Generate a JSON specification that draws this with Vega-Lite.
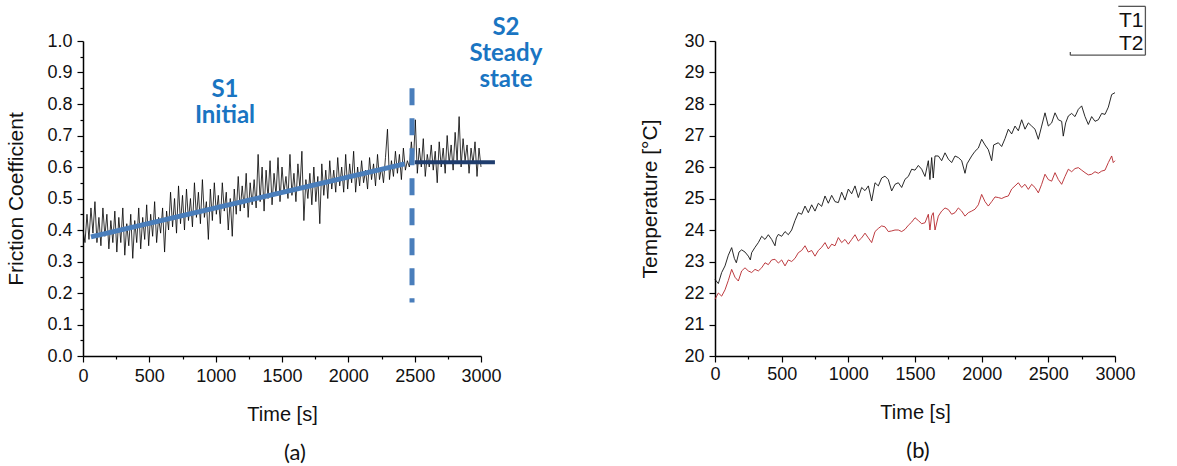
{
  "$schema": "https://vega.github.io/schema/vega-lite/v6.json",
  "padding": {"left": 5, "top": 5, "right": 0, "bottom": 0},
  "bounds": "flush",
  "spacing": 234,
  "config": {
    "view": {"stroke": null},
    "axis": {
      "grid": false,
      "domainColor": "#000",
      "domainWidth": 1.5,
      "tickColor": "#000",
      "tickWidth": 1.2,
      "tickCount": 100,
      "labelFont": "Liberation Sans",
      "labelFontSize": 18,
      "labelColor": "#111",
      "labelOverlap": false,
      "labelFlush": false,
      "labelBound": false,
      "titleFont": "Liberation Sans",
      "titleFontSize": 20,
      "titleFontWeight": "normal",
      "titleColor": "#111"
    }
  },
  "datasets": {
    "friction": [
      {"t":0,"mu":0.40},{"t":15,"mu":0.36},{"t":30,"mu":0.45},{"t":45,"mu":0.37},{"t":60,"mu":0.47},{"t":75,"mu":0.39},{"t":90,"mu":0.49},{"t":105,"mu":0.36},{"t":120,"mu":0.44},{"t":135,"mu":0.35},
      {"t":150,"mu":0.47},{"t":165,"mu":0.38},{"t":180,"mu":0.45},{"t":195,"mu":0.34},{"t":210,"mu":0.43},{"t":225,"mu":0.36},{"t":240,"mu":0.46},{"t":255,"mu":0.33},{"t":270,"mu":0.44},{"t":285,"mu":0.36},
      {"t":300,"mu":0.47},{"t":315,"mu":0.32},{"t":330,"mu":0.42},{"t":345,"mu":0.35},{"t":360,"mu":0.45},{"t":375,"mu":0.31},{"t":390,"mu":0.43},{"t":405,"mu":0.36},{"t":420,"mu":0.47},{"t":435,"mu":0.34},
      {"t":450,"mu":0.44},{"t":465,"mu":0.37},{"t":480,"mu":0.48},{"t":495,"mu":0.35},{"t":510,"mu":0.45},{"t":525,"mu":0.38},{"t":540,"mu":0.49},{"t":555,"mu":0.36},{"t":570,"mu":0.44},{"t":585,"mu":0.39},
      {"t":600,"mu":0.47},{"t":615,"mu":0.33},{"t":630,"mu":0.46},{"t":645,"mu":0.40},{"t":660,"mu":0.52},{"t":675,"mu":0.41},{"t":690,"mu":0.50},{"t":705,"mu":0.39},{"t":720,"mu":0.54},{"t":735,"mu":0.42},
      {"t":750,"mu":0.51},{"t":765,"mu":0.40},{"t":780,"mu":0.53},{"t":795,"mu":0.43},{"t":810,"mu":0.50},{"t":825,"mu":0.41},{"t":840,"mu":0.55},{"t":855,"mu":0.44},{"t":870,"mu":0.52},{"t":885,"mu":0.42},
      {"t":900,"mu":0.56},{"t":915,"mu":0.44},{"t":930,"mu":0.49},{"t":945,"mu":0.37},{"t":960,"mu":0.53},{"t":975,"mu":0.43},{"t":990,"mu":0.55},{"t":1005,"mu":0.45},{"t":1020,"mu":0.51},{"t":1035,"mu":0.42},
      {"t":1050,"mu":0.55},{"t":1065,"mu":0.46},{"t":1080,"mu":0.52},{"t":1095,"mu":0.40},{"t":1110,"mu":0.50},{"t":1125,"mu":0.38},{"t":1140,"mu":0.53},{"t":1155,"mu":0.45},{"t":1170,"mu":0.57},{"t":1185,"mu":0.46},
      {"t":1200,"mu":0.54},{"t":1215,"mu":0.47},{"t":1230,"mu":0.58},{"t":1245,"mu":0.44},{"t":1260,"mu":0.55},{"t":1275,"mu":0.48},{"t":1290,"mu":0.56},{"t":1305,"mu":0.47},{"t":1320,"mu":0.64},{"t":1335,"mu":0.49},
      {"t":1350,"mu":0.60},{"t":1365,"mu":0.46},{"t":1380,"mu":0.59},{"t":1395,"mu":0.50},{"t":1410,"mu":0.62},{"t":1425,"mu":0.48},{"t":1440,"mu":0.58},{"t":1455,"mu":0.51},{"t":1470,"mu":0.63},{"t":1485,"mu":0.49},
      {"t":1500,"mu":0.60},{"t":1515,"mu":0.52},{"t":1530,"mu":0.57},{"t":1545,"mu":0.50},{"t":1560,"mu":0.64},{"t":1575,"mu":0.51},{"t":1590,"mu":0.58},{"t":1605,"mu":0.49},{"t":1620,"mu":0.61},{"t":1635,"mu":0.53},
      {"t":1650,"mu":0.65},{"t":1665,"mu":0.43},{"t":1680,"mu":0.56},{"t":1695,"mu":0.50},{"t":1710,"mu":0.58},{"t":1725,"mu":0.48},{"t":1740,"mu":0.60},{"t":1755,"mu":0.49},{"t":1770,"mu":0.57},{"t":1785,"mu":0.42},
      {"t":1800,"mu":0.61},{"t":1815,"mu":0.51},{"t":1830,"mu":0.59},{"t":1845,"mu":0.50},{"t":1860,"mu":0.62},{"t":1875,"mu":0.53},{"t":1890,"mu":0.59},{"t":1905,"mu":0.52},{"t":1920,"mu":0.63},{"t":1935,"mu":0.54},
      {"t":1950,"mu":0.60},{"t":1965,"mu":0.52},{"t":1980,"mu":0.64},{"t":1995,"mu":0.53},{"t":2010,"mu":0.61},{"t":2025,"mu":0.55},{"t":2040,"mu":0.65},{"t":2055,"mu":0.52},{"t":2070,"mu":0.60},{"t":2085,"mu":0.54},
      {"t":2100,"mu":0.62},{"t":2115,"mu":0.55},{"t":2130,"mu":0.59},{"t":2145,"mu":0.53},{"t":2160,"mu":0.63},{"t":2175,"mu":0.56},{"t":2190,"mu":0.61},{"t":2205,"mu":0.54},{"t":2220,"mu":0.64},{"t":2235,"mu":0.56},
      {"t":2250,"mu":0.60},{"t":2265,"mu":0.55},{"t":2280,"mu":0.63},{"t":2295,"mu":0.72},{"t":2310,"mu":0.56},{"t":2325,"mu":0.62},{"t":2340,"mu":0.57},{"t":2355,"mu":0.65},{"t":2370,"mu":0.58},{"t":2385,"mu":0.64},
      {"t":2400,"mu":0.56},{"t":2415,"mu":0.66},{"t":2430,"mu":0.59},{"t":2445,"mu":0.62},{"t":2460,"mu":0.60},{"t":2475,"mu":0.68},{"t":2490,"mu":0.61},{"t":2505,"mu":0.75},{"t":2520,"mu":0.58},{"t":2535,"mu":0.66},
      {"t":2550,"mu":0.60},{"t":2565,"mu":0.69},{"t":2580,"mu":0.57},{"t":2595,"mu":0.64},{"t":2610,"mu":0.60},{"t":2625,"mu":0.67},{"t":2640,"mu":0.59},{"t":2655,"mu":0.65},{"t":2670,"mu":0.55},{"t":2685,"mu":0.68},
      {"t":2700,"mu":0.60},{"t":2715,"mu":0.66},{"t":2730,"mu":0.58},{"t":2745,"mu":0.70},{"t":2760,"mu":0.61},{"t":2775,"mu":0.67},{"t":2790,"mu":0.59},{"t":2805,"mu":0.71},{"t":2820,"mu":0.62},{"t":2835,"mu":0.76},
      {"t":2850,"mu":0.60},{"t":2865,"mu":0.69},{"t":2880,"mu":0.62},{"t":2895,"mu":0.67},{"t":2910,"mu":0.58},{"t":2925,"mu":0.66},{"t":2940,"mu":0.61},{"t":2955,"mu":0.68},{"t":2970,"mu":0.57},{"t":2985,"mu":0.66},
      {"t":3000,"mu":0.60}
    ],
    "T1": [
      {"t":0,"v":22.43},{"t":25,"v":22.3},{"t":50,"v":22.65},{"t":75,"v":22.86},{"t":100,"v":23.2},{"t":125,"v":23.44},{"t":145,"v":23.1},{"t":160,"v":22.96},{"t":180,"v":23.3},{"t":200,"v":23.37},
      {"t":225,"v":23.3},{"t":250,"v":23.17},{"t":265,"v":23.05},{"t":275,"v":23.28},{"t":300,"v":23.45},{"t":325,"v":23.6},{"t":350,"v":23.8},{"t":375,"v":23.7},{"t":400,"v":23.85},{"t":425,"v":23.7},
      {"t":450,"v":23.5},{"t":460,"v":23.75},{"t":475,"v":23.86},{"t":500,"v":23.8},{"t":525,"v":23.95},{"t":550,"v":23.85},{"t":575,"v":24.0},{"t":600,"v":24.3},{"t":625,"v":24.55},{"t":650,"v":24.5},
      {"t":675,"v":24.76},{"t":700,"v":24.55},{"t":725,"v":24.8},{"t":750,"v":24.6},{"t":775,"v":24.85},{"t":800,"v":24.75},{"t":825,"v":25.08},{"t":850,"v":24.85},{"t":875,"v":25.1},{"t":900,"v":24.9},
      {"t":925,"v":24.87},{"t":950,"v":25.2},{"t":975,"v":24.95},{"t":1000,"v":25.3},{"t":1025,"v":25.15},{"t":1050,"v":25.4},{"t":1075,"v":25.03},{"t":1100,"v":25.35},{"t":1125,"v":25.25},{"t":1150,"v":25.4},
      {"t":1175,"v":24.92},{"t":1200,"v":25.5},{"t":1225,"v":25.4},{"t":1250,"v":25.65},{"t":1275,"v":25.71},{"t":1300,"v":25.6},{"t":1325,"v":25.24},{"t":1350,"v":25.45},{"t":1375,"v":25.5},{"t":1400,"v":25.35},
      {"t":1425,"v":25.61},{"t":1450,"v":25.7},{"t":1475,"v":25.93},{"t":1500,"v":25.9},{"t":1525,"v":26.05},{"t":1550,"v":25.93},{"t":1575,"v":25.7},{"t":1600,"v":26.2},{"t":1612,"v":25.6},{"t":1625,"v":26.3},
      {"t":1637,"v":25.65},{"t":1650,"v":26.35},{"t":1675,"v":26.35},{"t":1700,"v":26.2},{"t":1725,"v":26.45},{"t":1750,"v":26.25},{"t":1775,"v":26.14},{"t":1800,"v":26.35},{"t":1825,"v":26.3},{"t":1850,"v":26.2},
      {"t":1875,"v":25.8},{"t":1890,"v":26.1},{"t":1925,"v":26.35},{"t":1950,"v":26.5},{"t":1975,"v":26.6},{"t":2000,"v":26.88},{"t":2025,"v":26.7},{"t":2050,"v":26.55},{"t":2075,"v":26.2},{"t":2090,"v":26.7},
      {"t":2125,"v":26.77},{"t":2150,"v":26.65},{"t":2175,"v":26.9},{"t":2200,"v":27.2},{"t":2225,"v":27.05},{"t":2250,"v":27.3},{"t":2275,"v":27.15},{"t":2300,"v":27.5},{"t":2325,"v":27.2},{"t":2350,"v":27.4},
      {"t":2375,"v":27.3},{"t":2400,"v":27.2},{"t":2425,"v":26.88},{"t":2450,"v":27.3},{"t":2475,"v":27.72},{"t":2500,"v":27.3},{"t":2525,"v":27.4},{"t":2550,"v":27.72},{"t":2575,"v":27.5},{"t":2600,"v":27.45},
      {"t":2612,"v":26.98},{"t":2630,"v":27.4},{"t":2650,"v":27.62},{"t":2675,"v":27.7},{"t":2700,"v":27.6},{"t":2725,"v":27.83},{"t":2750,"v":27.94},{"t":2775,"v":27.6},{"t":2800,"v":27.35},{"t":2825,"v":27.6},
      {"t":2850,"v":27.45},{"t":2875,"v":27.5},{"t":2900,"v":27.7},{"t":2925,"v":27.67},{"t":2950,"v":27.9},{"t":2975,"v":28.3},{"t":3000,"v":28.36}
    ],
    "T2": [
      {"t":0,"v":21.8},{"t":25,"v":22.0},{"t":50,"v":21.9},{"t":75,"v":22.1},{"t":100,"v":22.4},{"t":125,"v":22.75},{"t":150,"v":22.5},{"t":175,"v":22.38},{"t":200,"v":22.7},{"t":225,"v":22.8},
      {"t":250,"v":22.7},{"t":275,"v":22.65},{"t":300,"v":22.75},{"t":325,"v":22.7},{"t":350,"v":22.8},{"t":375,"v":22.96},{"t":400,"v":22.9},{"t":425,"v":23.05},{"t":450,"v":23.07},{"t":475,"v":22.95},
      {"t":500,"v":23.05},{"t":525,"v":22.86},{"t":550,"v":23.05},{"t":575,"v":23.0},{"t":600,"v":23.1},{"t":625,"v":23.28},{"t":650,"v":23.35},{"t":675,"v":23.5},{"t":700,"v":23.3},{"t":725,"v":23.35},
      {"t":750,"v":23.17},{"t":775,"v":23.35},{"t":800,"v":23.45},{"t":825,"v":23.6},{"t":850,"v":23.4},{"t":875,"v":23.55},{"t":900,"v":23.5},{"t":925,"v":23.76},{"t":950,"v":23.6},{"t":975,"v":23.7},
      {"t":1000,"v":23.55},{"t":1025,"v":23.7},{"t":1050,"v":23.85},{"t":1075,"v":23.65},{"t":1100,"v":23.75},{"t":1125,"v":23.9},{"t":1150,"v":23.75},{"t":1175,"v":23.6},{"t":1200,"v":23.95},{"t":1225,"v":24.05},
      {"t":1250,"v":24.13},{"t":1275,"v":24.1},{"t":1300,"v":23.95},{"t":1325,"v":23.97},{"t":1350,"v":24.0},{"t":1375,"v":24.0},{"t":1400,"v":23.95},{"t":1425,"v":24.02},{"t":1450,"v":24.15},{"t":1475,"v":24.25},
      {"t":1500,"v":24.39},{"t":1525,"v":24.3},{"t":1550,"v":24.2},{"t":1575,"v":24.23},{"t":1600,"v":24.5},{"t":1612,"v":24.0},{"t":1625,"v":24.45},{"t":1637,"v":24.55},{"t":1650,"v":24.0},{"t":1675,"v":24.44},
      {"t":1700,"v":24.6},{"t":1725,"v":24.7},{"t":1750,"v":24.65},{"t":1775,"v":24.5},{"t":1800,"v":24.55},{"t":1825,"v":24.7},{"t":1850,"v":24.6},{"t":1875,"v":24.44},{"t":1900,"v":24.55},{"t":1925,"v":24.6},
      {"t":1950,"v":24.66},{"t":1975,"v":24.8},{"t":2000,"v":25.13},{"t":2025,"v":24.9},{"t":2050,"v":24.76},{"t":2075,"v":24.9},{"t":2100,"v":25.05},{"t":2125,"v":25.03},{"t":2150,"v":25.0},{"t":2175,"v":25.05},
      {"t":2200,"v":25.08},{"t":2225,"v":25.3},{"t":2250,"v":25.4},{"t":2275,"v":25.5},{"t":2300,"v":25.35},{"t":2325,"v":25.45},{"t":2350,"v":25.29},{"t":2375,"v":25.45},{"t":2400,"v":25.35},{"t":2425,"v":25.18},
      {"t":2450,"v":25.45},{"t":2475,"v":25.77},{"t":2500,"v":25.6},{"t":2525,"v":25.55},{"t":2550,"v":25.82},{"t":2575,"v":25.6},{"t":2600,"v":25.45},{"t":2625,"v":25.7},{"t":2650,"v":25.93},{"t":2675,"v":25.85},
      {"t":2700,"v":25.95},{"t":2725,"v":25.98},{"t":2750,"v":25.9},{"t":2775,"v":25.82},{"t":2800,"v":25.75},{"t":2825,"v":25.77},{"t":2850,"v":25.85},{"t":2875,"v":25.8},{"t":2900,"v":25.87},{"t":2925,"v":25.9},
      {"t":2950,"v":26.14},{"t":2975,"v":26.35},{"t":2987,"v":26.14},{"t":3000,"v":26.2}
    ]
  },
  "hconcat": [
    {
      "width": 398,
      "height": 315,
      "title": {"text": "(a)", "orient": "bottom", "font": "Lato", "fontSize": 22, "fontWeight": "normal", "color": "#111", "dx": 13, "offset": 19},
      "layer": [
        {
          "data": {"name": "friction"},
          "mark": {"type": "line", "color": "#000", "strokeWidth": 0.8},
          "encoding": {
            "x": {"field": "t", "type": "quantitative", "scale": {"domain": [0, 3000], "nice": false},
              "axis": {"title": "Time [s]", "values": [0,250,500,750,1000,1250,1500,1750,2000,2250,2500,2750,3000], "format": "d", "tickCount": 100,
                "labelOverlap": false,
                "labelExpr": "datum.value % 500 === 0 ? datum.label : ''",
                "tickSize": {"condition": {"test": "datum.value % 500 === 0", "value": 6}, "value": 3},
                "labelPadding": 5, "titlePadding": 19}},
            "y": {"field": "mu", "type": "quantitative", "scale": {"domain": [0, 1], "nice": false},
              "axis": {"title": "Friction Coefficient", "titleFontSize": 21, "values": [0,0.05,0.1,0.15,0.2,0.25,0.3,0.35,0.4,0.45,0.5,0.55,0.6,0.65,0.7,0.75,0.8,0.85,0.9,0.95,1.0], "format": ".1f", "tickCount": 100,
                "labelOverlap": false,
                "labelExpr": "round(datum.value * 20) % 2 === 0 ? datum.label : ''",
                "tickSize": {"condition": {"test": "round(datum.value * 20) % 2 === 0", "value": 6}, "value": 3},
                "labelPadding": 5, "titlePadding": 20}}
          }
        },
        {
          "data": {"values": [{"t": 60, "mu": 0.378}, {"t": 2425, "mu": 0.61}]},
          "mark": {"type": "line", "color": "#4a7ebb", "strokeWidth": 5},
          "encoding": {"x": {"field": "t", "type": "quantitative"}, "y": {"field": "mu", "type": "quantitative"}}
        },
        {
          "data": {"values": [{"t": 2500, "mu": 0.615}, {"t": 3105, "mu": 0.615}]},
          "mark": {"type": "line", "color": "#1f3d6e", "strokeWidth": 4},
          "encoding": {"x": {"field": "t", "type": "quantitative"}, "y": {"field": "mu", "type": "quantitative"}}
        },
        {
          "data": {"values": [{"t": 2480, "lo": 0.17, "hi": 0.85}]},
          "mark": {"type": "rule", "color": "#4a7ebb", "strokeWidth": 5, "strokeDash": [17, 13]},
          "encoding": {"x": {"field": "t", "type": "quantitative"}, "y": {"field": "hi", "type": "quantitative"}, "y2": {"field": "lo"}}
        },
        {
          "data": {"values": [
            {"t": 1070, "mu": 0.845, "label": "S1\nInitial"},
            {"t": 3188, "mu": 1.04, "label": "S2\nSteady\nstate"}
          ]},
          "mark": {"type": "text", "font": "Lato", "fontWeight": "bold", "fontSize": 24, "lineHeight": 26, "lineBreak": "\n", "color": "#1a75c2", "align": "center", "baseline": "middle"},
          "encoding": {"x": {"field": "t", "type": "quantitative"}, "y": {"field": "mu", "type": "quantitative"}, "text": {"field": "label"}}
        }
      ]
    },
    {
      "width": 400,
      "height": 315,
      "title": {"text": "(b)", "orient": "bottom", "font": "Lato", "fontSize": 22, "fontWeight": "normal", "color": "#111", "dx": 3, "offset": 19},
      "layer": [
        {
          "data": {"name": "T1"},
          "mark": {"type": "line", "color": "#111", "strokeWidth": 0.9},
          "encoding": {
            "x": {"field": "t", "type": "quantitative", "scale": {"domain": [0, 3000], "nice": false},
              "axis": {"title": "Time [s]", "values": [0,250,500,750,1000,1250,1500,1750,2000,2250,2500,2750,3000], "format": "d", "tickCount": 100,
                "labelOverlap": false,
                "labelExpr": "datum.value % 500 === 0 ? datum.label : ''",
                "tickSize": {"condition": {"test": "datum.value % 500 === 0", "value": 6}, "value": 3},
                "labelPadding": 3, "titlePadding": 19}},
            "y": {"field": "v", "type": "quantitative", "scale": {"domain": [20, 30], "nice": false},
              "axis": {"title": "Temperature [°C]", "titleFontSize": 21, "values": [20,20.5,21,21.5,22,22.5,23,23.5,24,24.5,25,25.5,26,26.5,27,27.5,28,28.5,29,29.5,30], "format": "d", "tickCount": 100,
                "labelOverlap": false,
                "labelExpr": "datum.value % 1 === 0 ? datum.label : ''",
                "tickSize": {"condition": {"test": "datum.value % 1 === 0", "value": 6}, "value": 3},
                "labelPadding": 5, "titlePadding": 23}}
          }
        },
        {
          "data": {"name": "T2"},
          "mark": {"type": "line", "color": "#b5262b", "strokeWidth": 0.9},
          "encoding": {"x": {"field": "t", "type": "quantitative"}, "y": {"field": "v", "type": "quantitative"}}
        },
        {
          "data": {"values": [
            {"a": 3025, "b": 3228, "lo": 31.1, "hi": 31.1},
            {"a": 2665, "b": 3228, "lo": 29.55, "hi": 29.55},
            {"a": 3228, "b": 3228, "lo": 29.55, "hi": 31.1},
            {"a": 2665, "b": 2665, "lo": 29.55, "hi": 29.65}
          ]},
          "mark": {"type": "rule", "color": "#555", "strokeWidth": 1.3},
          "encoding": {"x": {"field": "a", "type": "quantitative"}, "x2": {"field": "b"}, "y": {"field": "lo", "type": "quantitative"}, "y2": {"field": "hi"}}
        },
        {
          "data": {"values": [{"t": 3122, "v": 30.62, "label": "T1"}, {"t": 3122, "v": 29.9, "label": "T2"}]},
          "mark": {"type": "text", "font": "Liberation Sans", "fontSize": 21, "color": "#111", "align": "center", "baseline": "middle"},
          "encoding": {"x": {"field": "t", "type": "quantitative"}, "y": {"field": "v", "type": "quantitative"}, "text": {"field": "label"}}
        }
      ]
    }
  ]
}
